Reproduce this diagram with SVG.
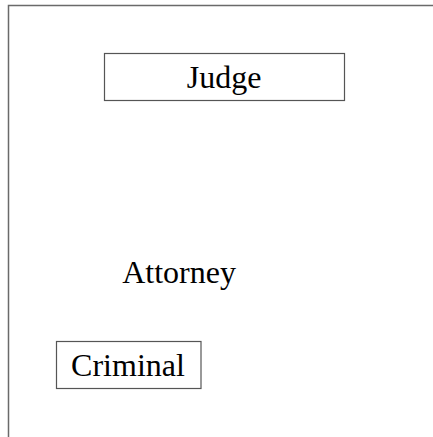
<svg xmlns="http://www.w3.org/2000/svg" width="433" height="437" viewBox="0 0 433 437">
<style>
.box{fill:#ffffff;stroke:#555555;stroke-width:1.2}
.lbl{font-family:"Liberation Serif","Times New Roman",serif;font-size:32px;fill:#000000;text-anchor:middle}
</style>
<rect x="0" y="0" width="433" height="437" fill="#ffffff"/>
<rect id="frame" x="8.5" y="5.5" width="430" height="440" fill="none" stroke="#6a6a6a" stroke-width="1.5"/>
<g id="connectors"></g>
<g id="judge">
<rect class="box" x="104.5" y="53.5" width="240" height="47"/>
<text class="lbl" x="224" y="88">Judge</text>
</g>
<g id="attorney">
<text class="lbl" x="179" y="283">Attorney</text>
</g>
<g id="criminal">
<rect class="box" x="56.5" y="341.5" width="144.5" height="47"/>
<text class="lbl" x="128" y="376">Criminal</text>
</g>
</svg>
